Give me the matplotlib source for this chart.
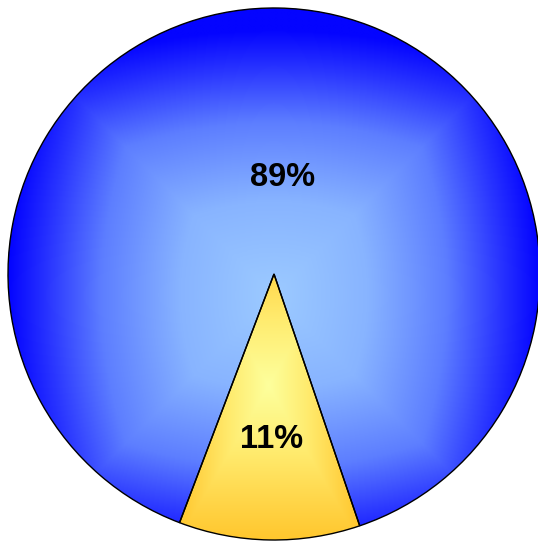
import matplotlib
matplotlib.use("Agg")
import matplotlib.pyplot as plt
from matplotlib.colors import LinearSegmentedColormap
import numpy as np

labels = ["89%", "11%"]
values = [89, 11]

# centre the small slice just left of the bottom
start = 269 - 360 * (values[0] + values[1] / 2) / sum(values)

fig = plt.figure(figsize=(5.38, 5.42), dpi=100)
ax = fig.add_axes([0, 0, 1, 1])
R = 266.0
cx, cy = 274.0, 274.0

wedges, _ = ax.pie(values, startangle=start, radius=1.0,
                   colors=["none", "none"],
                   wedgeprops=dict(edgecolor="black", linewidth=1.0))

blue = LinearSegmentedColormap.from_list(
    "b", [(0, "#9ccaff"), (0.35, "#88b4ff"), (0.65, "#5d7eff"), (0.85, "#2a36ff"), (1, "#0404ff")])
gold = LinearSegmentedColormap.from_list(
    "y", [(0, "#fdff9c"), (0.4, "#ffec70"), (0.75, "#ffd446"), (1, "#ffc52a")])

n = 500
xs = np.linspace(-1, 1, n)
X, Y = np.meshgrid(xs, xs)

# blue: rectangular gradient, smoothed with a radial part
sq = np.maximum(np.abs(X), np.abs(Y + 0.08))
rd = np.hypot(X, Y + 0.08)
gb = np.clip(0.6 * sq + 0.4 * rd, 0, 1)
im = ax.imshow(gb, cmap=blue, extent=(-1, 1, -1, 1), origin="lower",
               interpolation="bilinear", zorder=0)
im.set_clip_path(wedges[0])

# yellow: lighter near the upper middle of the slice
gy = np.clip(np.maximum(np.abs(X + 0.02) / 0.35, np.abs(Y + 0.42) / 0.6), 0, 1)
im2 = ax.imshow(gy, cmap=gold, extent=(-1, 1, -1, 1), origin="lower",
                interpolation="bilinear", zorder=0)
im2.set_clip_path(wedges[1])

for w in wedges:
    w.set_zorder(2)

ax.text((283 - cx) / R, (cy - 178) / R, labels[0], ha="center", va="center",
        fontsize=23.5, fontweight="bold", family="Liberation Sans", zorder=3)
ax.text((272 - cx) / R, (cy - 440) / R, labels[1], ha="center", va="center",
        fontsize=23.5, fontweight="bold", family="Liberation Sans", zorder=3)

ax.set_xlim(-cx / R, (538 - cx) / R)
ax.set_ylim(-(542 - cy) / R, cy / R)
ax.set_aspect("equal")
ax.axis("off")

fig.savefig("out.png", dpi=100, facecolor="white")
